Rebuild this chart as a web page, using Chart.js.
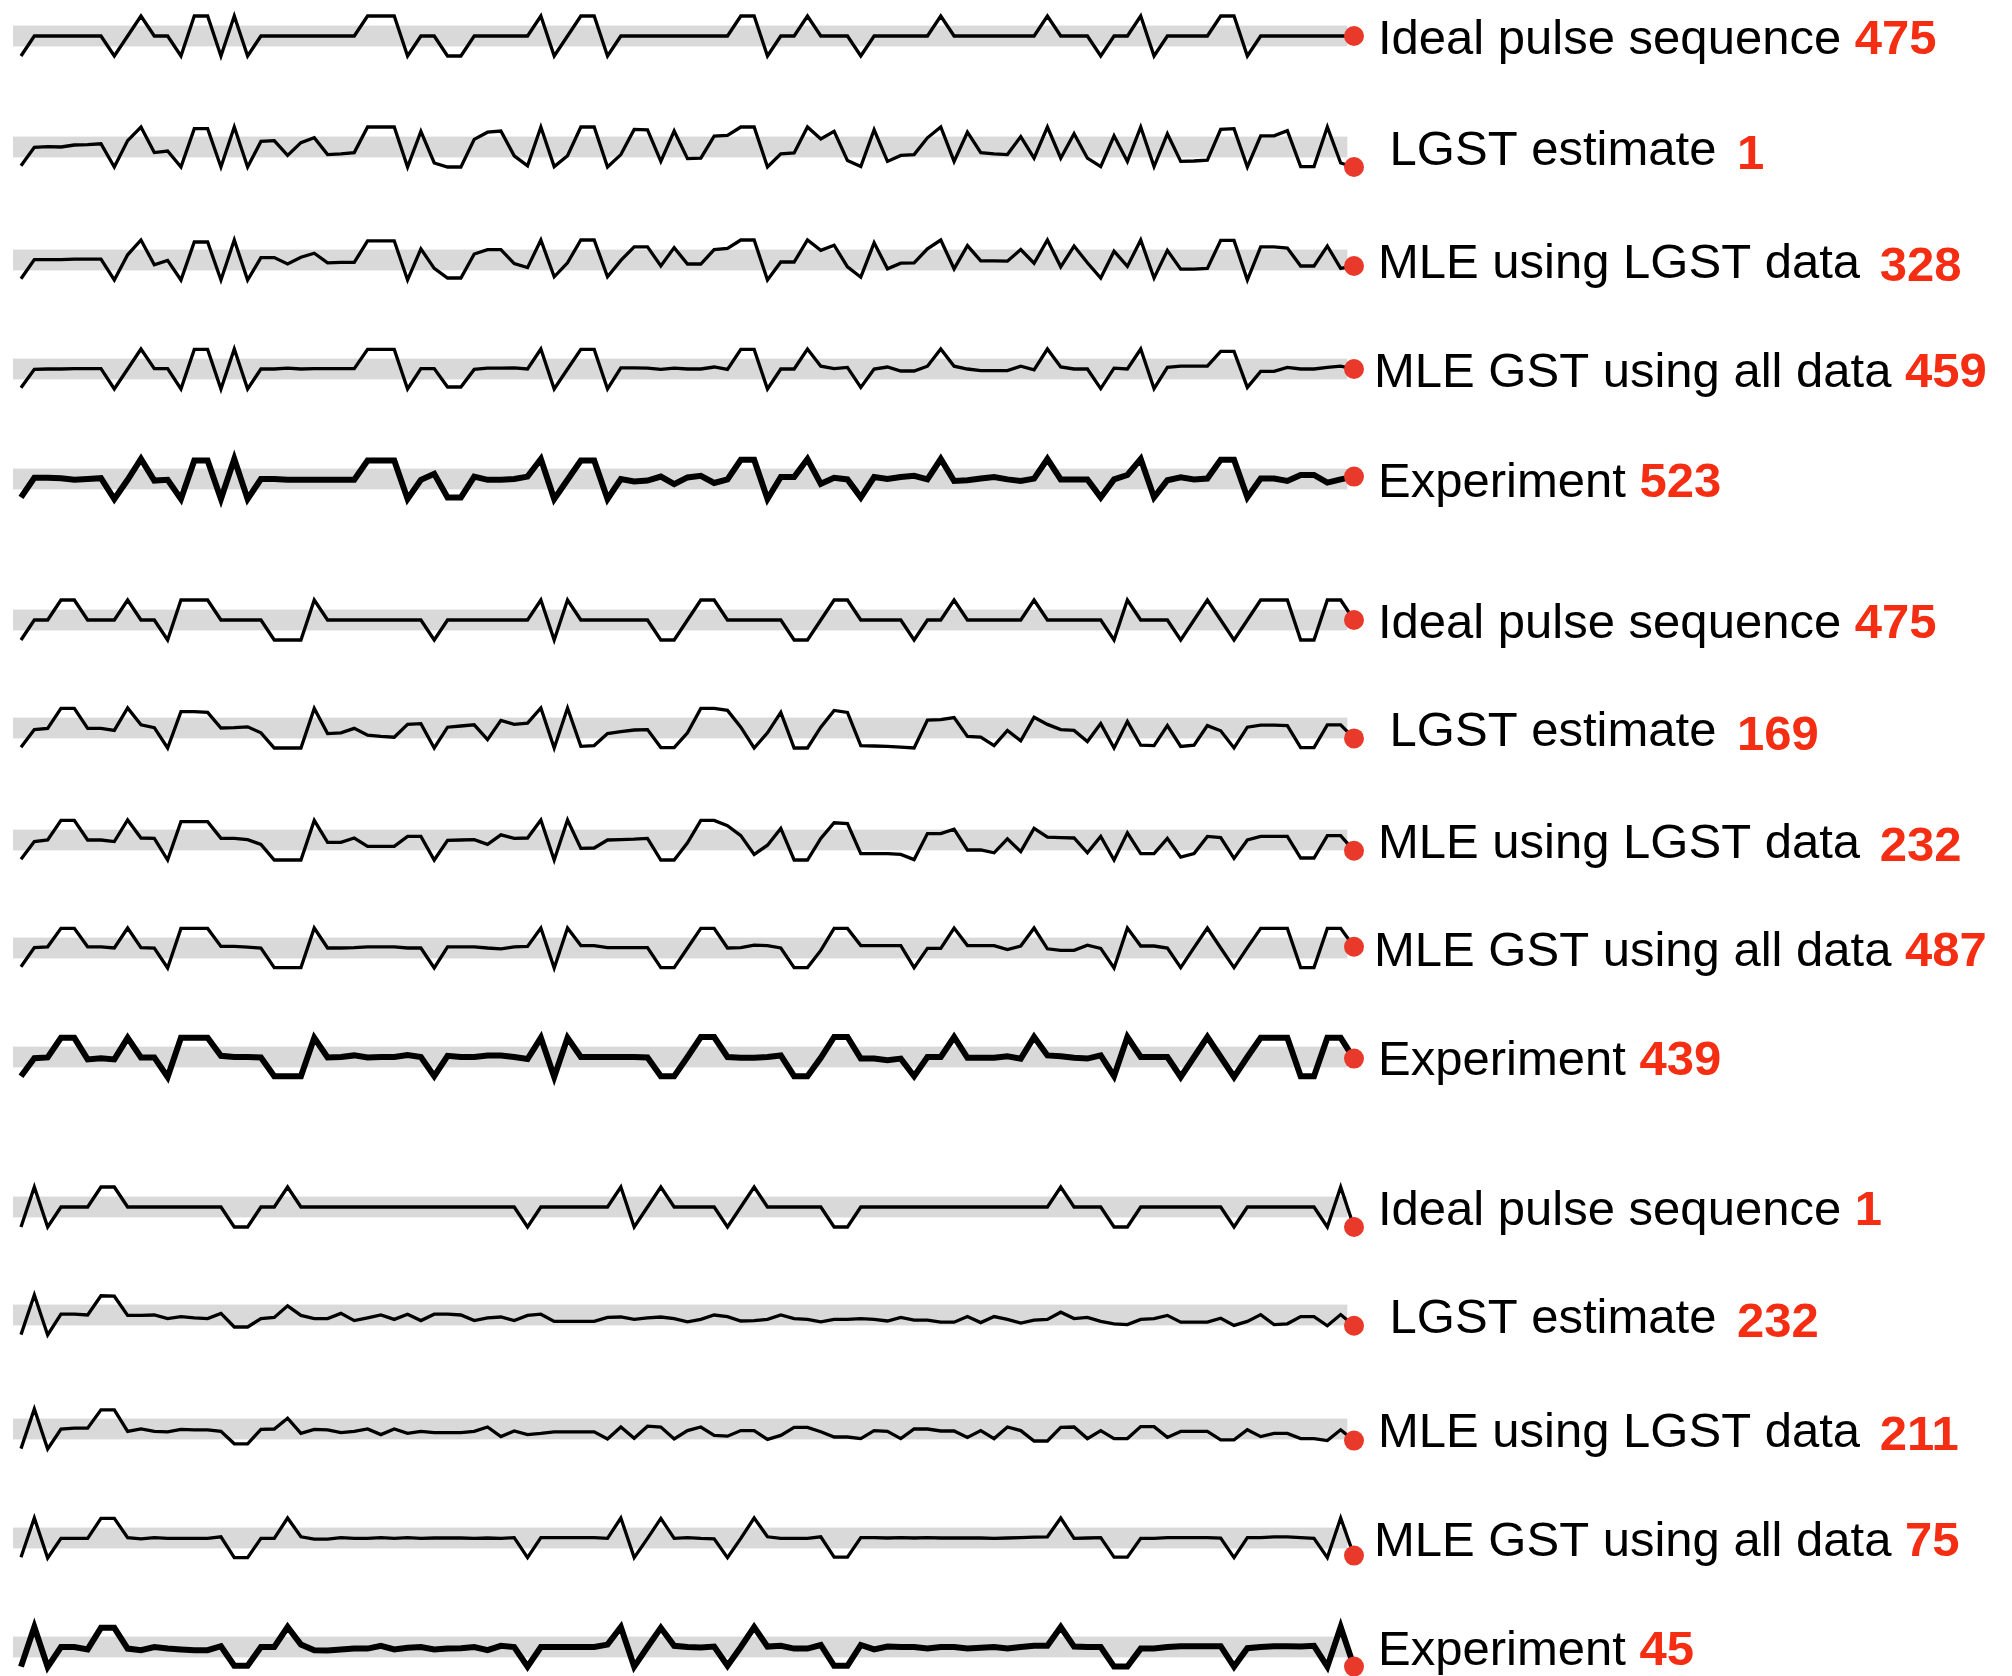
<!DOCTYPE html>
<html>
<head>
<meta charset="utf-8">
<script src="https://cdn.jsdelivr.net/npm/chart.js@4.4.1/dist/chart.umd.min.js"></script>
<style>
  html, body { margin: 0; padding: 0; background: #fff; width: 2012px; height: 1676px; overflow: hidden; }
  canvas { position: absolute; left: 0; }
</style>
</head>
<body>
<script>
// Row names, shared by the three sequence blocks
var rowLabels = ['Ideal pulse sequence', ' LGST estimate', 'MLE using LGST data', 'MLE GST using all data', 'Experiment'];

// Scores printed in red after each row name
var scoresA = [475, 1, 328, 459, 523];
var scoresB = [475, 169, 232, 487, 439];
var scoresC = [1, 232, 211, 75, 45];

// Block A: 101 outcomes per row (0 = low, 0.5 = middle, 1 = high)
var idealA = [
  0, .5, .5, .5, .5, .5, .5, 0, .5, 1,
  .5, .5, 0, 1, 1, 0, 1, 0, .5, .5,
  .5, .5, .5, .5, .5, .5, 1, 1, 1, 0,
  .5, .5, 0, 0, .5, .5, .5, .5, .5, 1,
  0, .5, 1, 1, 0, .5, .5, .5, .5, .5,
  .5, .5, .5, .5, 1, 1, 0, .5, .5, 1,
  .5, .5, .5, 0, .5, .5, .5, .5, .5, 1,
  .5, .5, .5, .5, .5, .5, .5, 1, .5, .5,
  .5, 0, .5, .5, 1, 0, .5, .5, .5, .5,
  1, 1, 0, .5, .5, .5, .5, .5, .5, .5,
  .5];
var lgstA = [
  .03, .49, .51, .5, .55, .56, .58, 0, .66, 1,
  .36, .4, 0, .96, .96, 0, 1, 0, .64, .66,
  .29, .61, .73, .31, .33, .36, 1, 1, 1, 0,
  .89, .1, 0, 0, .69, .87, .9, .28, .03, 1,
  .01, .28, 1, 1, 0, .31, .94, .93, .14, .9,
  .21, .22, .77, .79, 1, 1, 0, .33, .35, 1,
  .7, .89, .16, .01, .93, .14, .29, .31, .73, 1,
  .14, .87, .36, .33, .31, .76, .22, 1, .22, .83,
  .22, .01, .78, .14, 1, .01, .83, .14, .15, .17,
  .94, .96, 0, .78, .78, .91, .01, .01, 1, .1,
  0];
var mleLgstA = [
  .03, .51, .51, .51, .52, .52, .52, 0, .63, 1,
  .38, .49, 0, .95, .95, 0, 1, 0, .56, .56,
  .4, .57, .67, .43, .44, .44, .98, .98, .98, 0,
  .78, .29, .05, .05, .65, .76, .76, .41, .31, 1,
  .08, .43, 1, 1, .08, .49, .83, .83, .35, .81,
  .4, .4, .76, .79, 1, 1, 0, .45, .45, 1,
  .74, .87, .33, .07, .93, .28, .42, .43, .78, 1,
  .28, .86, .48, .48, .47, .76, .42, 1, .33, .85,
  .43, .05, .72, .34, 1, .05, .74, .27, .27, .29,
  .99, .99, 0, .83, .83, .8, .35, .35, .85, .29,
  .35];
var mleAllA = [
  .03, .49, .5, .5, .51, .51, .51, 0, .5, 1,
  .51, .51, 0, .99, .99, 0, 1, 0, .5, .5,
  .52, .5, .51, .51, .51, .51, .99, .99, .99, 0,
  .51, .51, .05, .05, .49, .52, .52, .53, .5, 1,
  0, .5, .99, .99, 0, .53, .53, .52, .49, .52,
  .5, .5, .55, .49, .99, .99, 0, .5, .5, 1,
  .57, .51, .54, .04, .5, .55, .45, .45, .57, 1,
  .57, .5, .46, .46, .46, .57, .48, 1, .55, .5,
  .5, .01, .52, .5, 1, .01, .54, .57, .57, .57,
  .94, .94, .04, .44, .44, .54, .5, .5, .54, .57,
  .5];
var experimentA = [
  .04, .53, .53, .52, .48, .5, .52, 0, .48, 1,
  .46, .48, 0, .96, .96, 0, 1, 0, .5, .5,
  .48, .48, .48, .48, .48, .48, .96, .96, .96, 0,
  .48, .63, .04, .04, .56, .48, .48, .5, .56, 1,
  0, .48, .96, .96, 0, .5, .44, .46, .56, .37,
  .54, .58, .4, .49, .98, .98, 0, .55, .55, 1,
  .38, .53, .49, .04, .55, .5, .55, .58, .49, 1,
  .45, .47, .51, .55, .49, .45, .51, 1, .49, .49,
  .49, .04, .49, .6, 1, .04, .47, .54, .49, .51,
  .98, .98, .04, .51, .51, .45, .6, .6, .41, .49,
  .56];

// Block B
var idealB = [
  0, .5, .5, 1, 1, .5, .5, .5, 1, .5,
  .5, 0, 1, 1, 1, .5, .5, .5, .5, 0,
  0, 0, 1, .5, .5, .5, .5, .5, .5, .5,
  .5, 0, .5, .5, .5, .5, .5, .5, .5, 1,
  0, 1, .5, .5, .5, .5, .5, .5, 0, 0,
  .5, 1, 1, .5, .5, .5, .5, .5, 0, 0,
  .5, 1, 1, .5, .5, .5, .5, 0, .5, .5,
  1, .5, .5, .5, .5, .5, 1, .5, .5, .5,
  .5, .5, 0, 1, .5, .5, .5, 0, .5, 1,
  .5, 0, .5, 1, 1, 1, 0, 0, 1, 1,
  .5];
var lgstB = [
  .02, .46, .49, .99, .99, .49, .49, .44, 1, .58,
  .51, 0, .91, .91, .89, .5, .51, .53, .38, 0,
  0, 0, .99, .36, .38, .49, .32, .29, .27, .59,
  .61, 0, .52, .55, .58, .21, .69, .59, .62, 1,
  0, 1, .04, .06, .36, .41, .45, .46, .01, .01,
  .38, .99, .99, .94, .52, 0, .38, .89, 0, 0,
  .52, .94, .89, .06, .05, .04, .02, 0, .7, .71,
  .76, .29, .27, .06, .44, .18, .77, .59, .46, .44,
  .16, .61, 0, .66, .07, .06, .56, .04, .07, .56,
  .43, 0, .52, .57, .57, .56, .01, .01, .58, .58,
  .24];
var mleLgstB = [
  .02, .46, .5, .99, .99, .5, .5, .46, 1, .55,
  .54, 0, .96, .96, .96, .54, .54, .51, .39, 0,
  0, 0, .99, .44, .44, .55, .34, .34, .34, .59,
  .59, 0, .49, .5, .51, .39, .63, .54, .55, 1,
  0, 1, .29, .3, .5, .51, .52, .54, 0, 0,
  .43, .99, .99, .86, .61, .14, .37, .79, 0, 0,
  .54, .93, .91, .16, .16, .16, .14, .01, .66, .66,
  .77, .25, .25, .18, .53, .21, .79, .57, .56, .55,
  .18, .59, 0, .68, .16, .16, .54, .07, .16, .59,
  .56, .04, .5, .59, .59, .59, .05, .05, .61, .61,
  .23];
var mleAllB = [
  .03, .51, .53, .99, .99, .53, .53, .5, 1, .51,
  .5, 0, .99, .99, .99, .54, .54, .52, .5, .01,
  .01, .01, 1, .5, .5, .51, .53, .53, .53, .5,
  .5, 0, .53, .53, .53, .5, .48, .53, .54, 1,
  0, 1, .56, .56, .51, .51, .51, .51, .01, .01,
  .5, .99, .99, .5, .51, .57, .56, .5, .01, .01,
  .44, .99, .99, .56, .56, .56, .56, .01, .49, .49,
  1, .56, .56, .56, .46, .55, 1, .48, .44, .44,
  .57, .49, 0, 1, .55, .55, .5, .01, .51, 1,
  .5, .01, .51, .99, .99, .99, .01, .01, .99, .99,
  .53];
var experimentB = [
  .02, .47, .49, .98, .98, .44, .47, .44, .98, .49,
  .49, 0, .98, .98, .98, .53, .5, .5, .49, .02,
  .02, .02, .98, .49, .5, .54, .49, .5, .5, .55,
  .5, .02, .53, .5, .5, .54, .54, .5, .45, .98,
  0, .98, .5, .5, .5, .5, .5, .49, .02, .02,
  .5, 1, 1, .5, .48, .48, .5, .54, .02, .02,
  .48, 1, 1, .46, .46, .42, .46, .02, .5, .5,
  1, .48, .48, .48, .52, .46, 1, .54, .52, .48,
  .46, .54, .02, 1, .5, .5, .5, 0, .5, 1,
  .5, 0, .5, .98, .98, .98, .02, .02, .98, .98,
  .46];

// Block C
var idealC = [
  0, 1, 0, .5, .5, .5, 1, 1, .5, .5,
  .5, .5, .5, .5, .5, .5, 0, 0, .5, .5,
  1, .5, .5, .5, .5, .5, .5, .5, .5, .5,
  .5, .5, .5, .5, .5, .5, .5, .5, 0, .5,
  .5, .5, .5, .5, .5, 1, 0, .5, 1, .5,
  .5, .5, .5, 0, .5, 1, .5, .5, .5, .5,
  .5, 0, 0, .5, .5, .5, .5, .5, .5, .5,
  .5, .5, .5, .5, .5, .5, .5, .5, 1, .5,
  .5, .5, 0, 0, .5, .5, .5, .5, .5, .5,
  .5, 0, .5, .5, .5, .5, .5, .5, 0, 1,
  0];
var lgstC = [
  .01, 1, 0, .52, .52, .5, .98, .97, .49, .49,
  .5, .41, .46, .43, .41, .54, .2, .2, .41, .44,
  .73, .49, .41, .41, .54, .36, .43, .5, .39, .52,
  .36, .52, .52, .5, .36, .43, .45, .36, .49, .52,
  .34, .34, .34, .34, .44, .45, .39, .43, .45, .41,
  .33, .39, .5, .46, .35, .36, .39, .5, .41, .39,
  .33, .39, .39, .41, .39, .35, .44, .37, .37, .32,
  .32, .46, .31, .46, .39, .3, .37, .39, .57, .41,
  .44, .34, .28, .26, .39, .41, .49, .32, .32, .32,
  .42, .24, .34, .51, .26, .28, .46, .46, .23, .51,
  .23];
var mleLgstC = [
  .01, 1, 0, .5, .52, .52, .98, .98, .44, .5,
  .44, .43, .49, .48, .48, .44, .13, .13, .49, .5,
  .77, .39, .49, .48, .41, .44, .5, .36, .5, .39,
  .44, .41, .41, .41, .44, .55, .31, .45, .36, .39,
  .43, .43, .43, .43, .25, .55, .27, .57, .55, .25,
  .46, .55, .34, .32, .46, .46, .24, .34, .54, .54,
  .43, .3, .3, .26, .46, .44, .26, .5, .5, .45,
  .45, .29, .46, .26, .55, .46, .2, .2, .54, .55,
  .26, .46, .26, .26, .56, .56, .29, .44, .44, .44,
  .23, .23, .48, .31, .39, .39, .26, .26, .21, .48,
  .21];
var mleAllC = [
  .02, 1, 0, .49, .49, .49, .99, .99, .51, .48,
  .51, .49, .49, .49, .49, .53, .01, .01, .49, .49,
  1, .53, .47, .47, .51, .49, .49, .51, .49, .51,
  .49, .5, .5, .5, .49, .5, .49, .51, .01, .51,
  .51, .51, .51, .51, .49, 1, .01, .49, .99, .49,
  .51, .49, .48, .01, .49, 1, .53, .49, .49, .49,
  .53, .02, .02, .51, .51, .5, .51, .5, .51, .5,
  .5, .5, .5, .49, .5, .51, .52, .53, 1, .49,
  .5, .51, .02, .02, .49, .49, .51, .51, .51, .51,
  .5, .01, .51, .51, .53, .53, .51, .49, .01, 1,
  .06];
var experimentC = [
  .01, 1, 0, .5, .5, .44, .98, .98, .46, .42,
  .5, .46, .44, .42, .42, .52, .03, .03, .5, .5,
  1, .56, .42, .41, .44, .46, .46, .53, .44, .48,
  .5, .44, .46, .47, .5, .42, .53, .5, .01, .5,
  .5, .5, .5, .5, .56, 1, .01, .5, .98, .53,
  .5, .49, .51, .03, .5, 1, .51, .53, .46, .46,
  .55, .03, .03, .55, .44, .51, .5, .5, .46, .5,
  .5, .46, .48, .5, .46, .5, .53, .53, 1, .51,
  .5, .5, .01, .01, .46, .46, .5, .52, .52, .52,
  .52, .01, .47, .5, .52, .52, .51, .53, .01, 1,
  .01];

// Shaded reference band and its horizontal extent (in step units)
var bandLow = 0.24, bandHigh = 0.76;
var bandFrom = -0.6, bandTo = 99.5;

// Page layout: vertical centre of every sparkline
var rowCentres = [36, 147, 260, 369, 479, 620, 728, 840, 948, 1057, 1207, 1315, 1429, 1538, 1647];
var labelX = [1378, 1376, 1378, 1374, 1378];
var scoreExtra = [0, 7, 6, 0, 0];
var scoreDrop = [0, 4, 3, 0, 0];

var blocks = [
  { series: [idealA, lgstA, mleLgstA, mleAllA, experimentA], scores: scoresA },
  { series: [idealB, lgstB, mleLgstB, mleAllB, experimentB], scores: scoresB },
  { series: [idealC, lgstC, mleLgstC, mleAllC, experimentC], scores: scoresC }
];

var CANVAS_W = 2012, CANVAS_H = 100;
var FONT = '"Liberation Sans", Arial, Helvetica, sans-serif';

// grey band behind the line
var bandPlugin = {
  id: 'band',
  beforeDatasetsDraw: function (chart) {
    var ctx = chart.ctx, x = chart.scales.x, y = chart.scales.y;
    var x0 = x.getPixelForValue(bandFrom), x1 = x.getPixelForValue(bandTo);
    var y0 = y.getPixelForValue(bandHigh), y1 = y.getPixelForValue(bandLow);
    ctx.save();
    ctx.fillStyle = '#d9d9d9';
    ctx.fillRect(x0, y0, x1 - x0, y1 - y0);
    ctx.restore();
  }
};

// row name in black followed by the red score
var labelPlugin = {
  id: 'rowLabel',
  afterDraw: function (chart) {
    var o = chart.options.plugins.rowLabel;
    var ctx = chart.ctx;
    var base = chart.scales.y.getPixelForValue(0.5) + 18;
    ctx.save();
    ctx.textBaseline = 'alphabetic';
    ctx.textAlign = 'left';
    ctx.font = '49px ' + FONT;
    ctx.fillStyle = '#000';
    var head = o.text + ' ';
    ctx.fillText(head, o.x, base);
    var w = ctx.measureText(head).width;
    ctx.font = 'bold 49px ' + FONT;
    ctx.fillStyle = '#f52d12';
    ctx.fillText(String(o.score), o.x + w + o.extra, base + o.drop);
    ctx.restore();
  }
};

var rowIndex = 0;
blocks.forEach(function (block) {
  block.series.forEach(function (values, k) {
    var canvas = document.createElement('canvas');
    canvas.width = CANVAS_W;
    canvas.height = CANVAS_H;
    canvas.style.width = CANVAS_W + 'px';
    canvas.style.height = CANVAS_H + 'px';
    canvas.style.top = (rowCentres[rowIndex] - CANVAS_H / 2) + 'px';
    document.body.appendChild(canvas);

    var last = values.length - 1;
    var thick = k === 4;

    new Chart(canvas, {
      type: 'line',
      data: {
        datasets: [{
          data: values.map(function (v, i) { return { x: i, y: v }; }),
          borderColor: '#000',
          borderWidth: thick ? 6 : 3.3,
          borderJoinStyle: 'miter',
          tension: 0,
          clip: false,
          pointRadius: function (c) { return c.dataIndex === last ? 10 : 0; },
          pointHoverRadius: function (c) { return c.dataIndex === last ? 10 : 0; },
          pointBackgroundColor: '#e8392b',
          pointBorderWidth: 0
        }]
      },
      options: {
        responsive: false,
        animation: false,
        events: [],
        layout: { padding: { left: 21, right: CANVAS_W - 1354, top: 2, bottom: 2 } },
        plugins: {
          legend: { display: false },
          tooltip: { enabled: false },
          rowLabel: {
            text: rowLabels[k],
            score: block.scores[k],
            x: labelX[k],
            extra: scoreExtra[k],
            drop: scoreDrop[k]
          }
        },
        scales: {
          x: { type: 'linear', min: 0, max: 100, display: false },
          y: { min: -0.5, max: 1.5, display: false }
        }
      },
      plugins: [bandPlugin, labelPlugin]
    });
    rowIndex++;
  });
});
</script>
</body>
</html>
